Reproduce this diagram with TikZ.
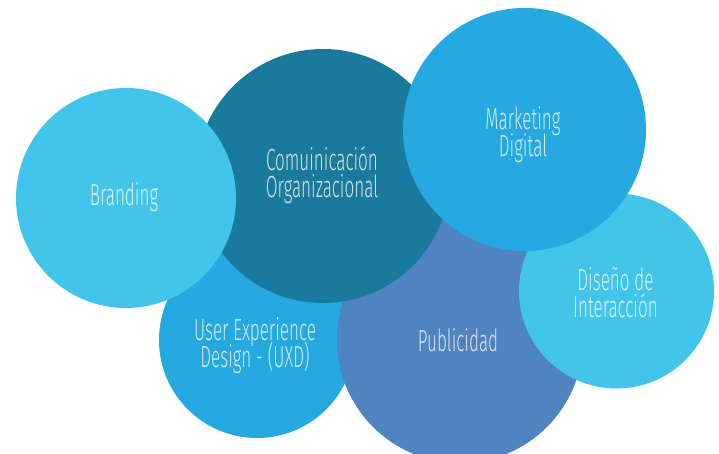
\documentclass[tikz,border=0pt]{standalone}
\usepackage{fontspec}
\setmainfont{Fira Sans Light}[FakeStretch=0.56]
\definecolor{cLight}{HTML}{42C5EB}
\definecolor{cMid}{HTML}{25A9E0}
\definecolor{cDark}{HTML}{1A7A9B}
\definecolor{cPub}{HTML}{4F83C2}
\newcommand\mylblfont{\fontsize{30.5}{27}\selectfont\setlength{\lineskiplimit}{-100pt}\setlength{\lineskip}{0pt}}
\begin{document}
\begin{tikzpicture}[x=1pt,y=-1pt,
  bubble/.style={circle,inner sep=0pt,minimum size=#1,draw=none},
  lbl/.style={anchor=base,align=center,text=white,text opacity=0.8,inner sep=0pt,
    font=\mylblfont}]
\useasboundingbox (0,0) rectangle (719,454);
\clip (0,0) rectangle (719,454);
\node[bubble=196pt,fill=cMid]   (uxd) at (257,340) {};
\node[bubble=246pt,fill=cPub]   (pub) at (460,340) {};
\node[bubble=195pt,fill=cLight] (dis) at (616.5,291) {};
\node[bubble=254pt,fill=cDark]  (com) at (323,176) {};
\node[bubble=220pt,fill=cLight] (bra) at (126,198) {};
\node[bubble=243pt,fill=cMid]   (mkt) at (524.5,129.5) {};
\node[lbl] (bra-t) at (124,206) {Branding};
\node[lbl] (com-t) at (322,197) {Comuinicación\\Organizacional};
\node[lbl] (mkt-t) at (523,157) {Marketing\\Digital};
\node[lbl] (uxd-t) at (255,367) {User Experience\\Design - (UXD)};
\node[lbl] (pub-t) at (458,351) {Publicidad};
\node[lbl] (dis-t) at (615.5,317) {Diseño de\\Interacción};
\end{tikzpicture}
\end{document}
